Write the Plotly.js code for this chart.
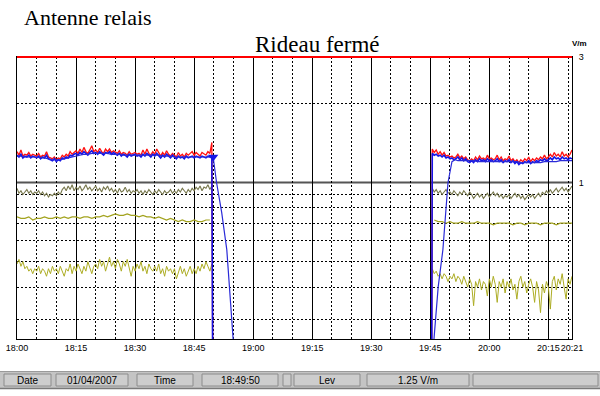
<!DOCTYPE html>
<html>
<head>
<meta charset="utf-8">
<script src="https://cdn.plot.ly/plotly-3.0.1.min.js"></script>
<style>
html,body{margin:0;padding:0;background:#fff;}
#chart{width:600px;height:396px;}
</style>
</head>
<body>
<div id="chart"></div>
<script>
// ---------------- DATA ----------------
const day = '2007-04-01';
const startHour = 18;                 // minutes below are counted from 18:00
const rangeEndMin = 141;              // 20:21
const tickMinutes = [0, 15, 30, 45, 60, 75, 90, 105, 120, 135, 141];
const tickLabels = ['18:00','18:15','18:30','18:45','19:00','19:15','19:30','19:45','20:00','20:15','20:21'];
const minorMinutes = [5,10,20,25,35,40,50,55,65,70,80,85,95,100,110,115,125,130,140];
const yGridVals = [0.3, 0.4, 0.5, 0.6, 0.7, 0.8, 0.9, 2];
const yTickVals = [1, 3];
const yTickText = ['1', '3'];
const yMin = 0.254, yMax = 3;
const offScale = 0.1;                 // signal lost (below scale)

// sampling of the noisy records (minutes)
const leftStart = 0, rightStart = 105.5, step = 0.5;
const leftDropMin = 49.8, rightRiseMin = 105.3;

// red = peak level (V/m)
const redLeft = [
1.31,1.27,1.33,1.26,1.28,1.27,1.30,1.26,1.28,1.27,
1.26,1.29,1.25,1.27,1.26,1.31,1.25,1.24,1.23,1.25,
1.22,1.24,1.23,1.27,1.25,1.28,1.26,1.31,1.28,1.30,
1.32,1.29,1.34,1.30,1.36,1.31,1.29,1.33,1.38,1.31,
1.33,1.30,1.35,1.31,1.29,1.34,1.31,1.34,1.30,1.32,
1.30,1.29,1.32,1.28,1.30,1.29,1.27,1.31,1.28,1.29,
1.30,1.28,1.29,1.27,1.33,1.28,1.34,1.29,1.27,1.31,
1.28,1.34,1.29,1.26,1.30,1.27,1.32,1.28,1.26,1.29,
1.27,1.25,1.30,1.26,1.28,1.25,1.29,1.27,1.29,1.31,
1.27,1.30,1.28,1.26,1.30,1.28,1.27,1.31,1.29,1.42];
const redRight = [
1.34,1.30,1.33,1.28,1.31,1.27,1.30,1.26,1.27,1.25,
1.26,1.24,1.25,1.28,1.24,1.26,1.23,1.25,1.22,1.21,
1.23,1.21,1.25,1.22,1.26,1.23,1.24,1.22,1.27,1.23,
1.24,1.22,1.23,1.27,1.22,1.25,1.21,1.23,1.22,1.26,
1.21,1.23,1.20,1.22,1.19,1.22,1.20,1.23,1.21,1.25,
1.20,1.23,1.21,1.24,1.22,1.25,1.23,1.27,1.23,1.25,
1.28,1.25,1.30,1.26,1.28,1.25,1.31,1.26,1.28,1.25,
1.28,1.33];

// blue = instantaneous level (V/m)
const blueLeft = [
1.27,1.25,1.28,1.24,1.26,1.25,1.27,1.24,1.26,1.25,
1.24,1.26,1.23,1.25,1.24,1.27,1.23,1.22,1.21,1.23,
1.20,1.22,1.21,1.24,1.23,1.25,1.24,1.27,1.26,1.28,
1.29,1.27,1.30,1.28,1.31,1.29,1.27,1.30,1.32,1.29,
1.30,1.28,1.31,1.29,1.27,1.30,1.29,1.31,1.28,1.30,
1.28,1.27,1.29,1.26,1.28,1.27,1.25,1.28,1.26,1.27,
1.28,1.26,1.27,1.25,1.28,1.26,1.29,1.27,1.25,1.28,
1.26,1.29,1.27,1.24,1.27,1.25,1.28,1.26,1.24,1.27,
1.25,1.23,1.26,1.24,1.25,1.23,1.26,1.24,1.25,1.26,
1.24,1.26,1.25,1.24,1.26,1.25,1.24,1.26,1.25,1.25];
const blueRight = [
1.29,1.27,1.28,1.26,1.27,1.25,1.27,1.24,1.25,1.23,
1.24,1.22,1.23,1.25,1.22,1.24,1.21,1.23,1.20,1.19,
1.21,1.19,1.22,1.20,1.23,1.21,1.22,1.20,1.23,1.21,
1.22,1.20,1.21,1.23,1.20,1.22,1.19,1.21,1.20,1.22,
1.19,1.21,1.18,1.20,1.17,1.19,1.18,1.20,1.19,1.21,
1.18,1.20,1.19,1.21,1.20,1.22,1.21,1.23,1.21,1.22,
1.24,1.22,1.25,1.23,1.24,1.22,1.25,1.23,1.24,1.22,
1.24,1.23];

// blue average (V/m), explicit minutes
const avgLeftMin = [0,1,2,3,4,5,6,7,8,9,10,11,12,13,14,15,16,17,18,19,20,21,22,23,24,25,26,27,28,29,
  30,31,32,33,34,35,36,37,38,39,40,41,42,43,44,45,46,47,48,49,49.83,50.7,52.0,53.3,54.1,54.7,55.2];
const avgLeft = [1.26,1.26,1.25,1.25,1.25,1.25,1.24,1.24,1.23,1.22,1.22,1.22,1.23,1.24,1.25,1.26,1.27,1.28,1.28,1.29,
  1.29,1.29,1.29,1.29,1.28,1.28,1.28,1.27,1.27,1.27,1.27,1.27,1.27,1.27,1.27,1.27,1.27,1.26,1.26,1.26,
  1.25,1.25,1.25,1.25,1.25,1.25,1.25,1.25,1.25,1.25,1.25,1.00,0.77,0.555,0.37,0.267,0.22];
const avgRightMin = [105.6,105.9,107.0,108.2,109.5,110.5,111.3,112,113,114,115,116,117,118,119,120,121,122,123,124,125,
  126,127,128,129,130,131,132,133,134,135,136,137,138,139,140,141];
const avgRight = [0.22,0.254,0.40,0.555,1.00,1.20,1.22,1.21,1.21,1.21,1.21,1.21,1.20,1.20,1.20,1.20,1.20,1.20,1.20,1.20,1.20,
  1.20,1.20,1.19,1.19,1.19,1.19,1.19,1.19,1.20,1.20,1.20,1.20,1.21,1.21,1.21,1.21];

// cursor reading
const cursorMin = 49.83, cursorLevel = 1.25;

// olive band (V/m)
const oliveLeft = [
0.95,0.91,0.93,0.90,0.92,0.94,0.91,0.93,0.90,0.92,
0.91,0.93,0.90,0.92,0.89,0.91,0.88,0.90,0.89,0.91,
0.89,0.92,0.90,0.94,0.96,0.93,0.97,0.94,0.98,0.93,
0.96,0.94,0.97,0.93,0.95,0.98,0.94,0.96,0.93,0.95,
0.97,0.93,0.95,0.92,0.96,0.94,0.97,0.93,0.95,0.92,
0.94,0.91,0.95,0.92,0.93,0.96,0.92,0.94,0.91,0.93,
0.92,0.94,0.91,0.93,0.90,0.93,0.91,0.94,0.92,0.90,
0.93,0.91,0.94,0.92,0.90,0.93,0.91,0.92,0.94,0.91,
0.93,0.91,0.94,0.92,0.95,0.93,0.91,0.94,0.92,0.95,
0.93,0.96,0.94,0.97,0.93,0.96,0.95,0.98,0.94,0.97];
const oliveRight = [
0.95,0.92,0.94,0.91,0.93,0.90,0.92,0.94,0.91,0.92,
0.90,0.93,0.91,0.89,0.92,0.90,0.93,0.91,0.89,0.92,
0.90,0.87,0.89,0.91,0.88,0.90,0.87,0.89,0.91,0.88,
0.90,0.92,0.89,0.91,0.88,0.90,0.87,0.89,0.88,0.90,
0.87,0.89,0.91,0.88,0.90,0.87,0.89,0.86,0.88,0.90,
0.88,0.90,0.87,0.89,0.91,0.88,0.92,0.90,0.93,0.91,
0.94,0.91,0.93,0.95,0.92,0.94,0.96,0.93,0.95,0.92,
0.95,0.97];

// mid yellow band, one value per minute (V/m)
const midLeftStart = 0, midRightStart = 106, midStep = 1;
const midLeft = [
0.74,0.73,0.73,0.74,0.72,0.73,0.73,0.74,0.73,0.73,
0.74,0.73,0.74,0.73,0.74,0.74,0.73,0.74,0.74,0.73,
0.74,0.74,0.75,0.74,0.75,0.76,0.75,0.75,0.76,0.75,
0.75,0.74,0.75,0.74,0.74,0.73,0.74,0.73,0.72,0.73,
0.72,0.71,0.72,0.71,0.71,0.72,0.71,0.71,0.72,0.72];
const midRight = [
0.72,0.71,0.71,0.70,0.71,0.70,0.70,0.71,0.70,0.70,
0.70,0.71,0.70,0.70,0.70,0.69,0.70,0.70,0.70,0.70,
0.69,0.70,0.70,0.69,0.70,0.70,0.70,0.69,0.70,0.70,
0.70,0.69,0.70,0.70,0.70,0.70];

// low yellow band (V/m)
const lowLeft = [
0.49,0.51,0.48,0.50,0.47,0.48,0.46,0.47,0.45,0.47,
0.46,0.48,0.45,0.47,0.46,0.44,0.47,0.45,0.48,0.46,
0.47,0.45,0.48,0.46,0.44,0.47,0.46,0.49,0.45,0.48,
0.46,0.49,0.47,0.45,0.48,0.46,0.50,0.47,0.45,0.48,
0.49,0.47,0.51,0.48,0.50,0.46,0.49,0.52,0.48,0.50,
0.47,0.51,0.49,0.46,0.50,0.48,0.51,0.47,0.44,0.48,
0.46,0.49,0.47,0.50,0.46,0.48,0.45,0.49,0.47,0.46,
0.48,0.46,0.49,0.45,0.47,0.44,0.48,0.46,0.47,0.45,
0.47,0.43,0.46,0.48,0.45,0.47,0.44,0.46,0.48,0.45,
0.47,0.45,0.48,0.46,0.49,0.47,0.50,0.48,0.46,0.49];
const lowRight = [
0.47,0.45,0.46,0.44,0.45,0.43,0.45,0.44,0.42,0.44,
0.43,0.45,0.42,0.44,0.43,0.41,0.44,0.42,0.40,0.43,
0.41,0.34,0.42,0.40,0.43,0.39,0.42,0.41,0.37,0.43,
0.40,0.44,0.41,0.35,0.42,0.40,0.43,0.38,0.42,0.40,
0.43,0.39,0.41,0.36,0.42,0.44,0.40,0.42,0.38,0.41,
0.43,0.40,0.35,0.42,0.39,0.32,0.41,0.38,0.42,0.40,
0.33,0.42,0.44,0.39,0.43,0.41,0.45,0.40,0.36,0.43,
0.41,0.44];

// status bar content
const statusLabels = ['Date', '01/04/2007', 'Time', '18:49:50', '', 'Lev', '1.25 V/m', ''];

// ---------------- HELPERS ----------------
function pad(n){ return (n < 10 ? '0' : '') + n; }
function at(min){
  const s = Math.round(min * 60);
  const h = startHour + Math.floor(s / 3600);
  const m = Math.floor((s % 3600) / 60);
  const sec = s % 60;
  return day + ' ' + pad(h) + ':' + pad(m) + ':' + pad(sec);
}
function times(start, stp, n){ const a = []; for (let i = 0; i < n; i++) a.push(at(start + i * stp)); return a; }
function withGap(leftX, leftY, rightX, rightY){
  return { x: leftX.concat([null], rightX), y: leftY.concat([null], rightY) };
}

// pixel layout (600x396)
const W = 600, H = 396, L = 17, R = 572, T = 57, B = 339;
const px = x => (x - L) / (R - L);
const py = y => (B - y) / (B - T);

// ---------------- TRACES ----------------
function seg(leftVals, rightVals, st1, st2, stp, dropLeft, riseRight){
  let lx = times(st1, stp, leftVals.length), ly = leftVals.slice();
  let rx = times(st2, stp, rightVals.length), ry = rightVals.slice();
  if (dropLeft){ lx.push(at(leftDropMin)); ly.push(offScale); }
  if (riseRight){ rx.unshift(at(rightRiseMin)); ry.unshift(offScale); }
  return withGap(lx, ly, rx, ry);
}

const olive = seg(oliveLeft, oliveRight, leftStart, rightStart, step, false, false);
const mid = seg(midLeft, midRight, midLeftStart, midRightStart, midStep, false, false);
const low = seg(lowLeft, lowRight, leftStart, rightStart, step, false, false);
const red = seg(redLeft, redRight, leftStart, rightStart, step, true, true);
const blue = seg(blueLeft, blueRight, leftStart, rightStart, step, true, true);
const avg = withGap(avgLeftMin.map(at), avgLeft, avgRightMin.map(at), avgRight);

const common = { type: 'scatter', mode: 'lines', hoverinfo: 'skip', showlegend: false, connectgaps: false };
const traces = [
  Object.assign({}, common, { x: olive.x, y: olive.y, line: { color: '#77774c', width: 1.1 } }),
  Object.assign({}, common, { x: mid.x, y: mid.y, line: { color: '#a3a31e', width: 1.2 } }),
  Object.assign({}, common, { x: low.x, y: low.y, line: { color: '#adad24', width: 1 } }),
  Object.assign({}, common, { x: red.x, y: red.y, line: { color: '#ff1010', width: 1.3 } }),
  Object.assign({}, common, { x: blue.x, y: blue.y, line: { color: '#1414e6', width: 1.6 } }),
  Object.assign({}, common, { x: avg.x, y: avg.y, line: { color: '#2a2ad8', width: 1.2 } }),
  Object.assign({}, common, { x: [at(cursorMin)], y: [cursorLevel], mode: 'markers',
    marker: { symbol: 'triangle-down', size: 9, color: '#1414e6' } })
];

// ---------------- LAYOUT ----------------
const shapes = [];
// level 1 reference line and level 3 (top) line
shapes.push({ type: 'line', xref: 'paper', x0: 0, x1: 1, yref: 'y', y0: 1, y1: 1, line: { color: '#555555', width: 2 }, layer: 'below' });
shapes.push({ type: 'line', xref: 'paper', x0: 0, x1: 1, yref: 'paper', y0: 1, y1: 1, line: { color: '#ff0000', width: 2 }, layer: 'above' });

// status bar
shapes.push({ type: 'rect', xref: 'paper', yref: 'paper', x0: px(0), x1: px(W), y0: py(389), y1: py(371),
  fillcolor: '#c4c4c4', line: { width: 0 }, layer: 'above' });
shapes.push({ type: 'line', xref: 'paper', yref: 'paper', x0: px(0), x1: px(W), y0: py(371.5), y1: py(371.5),
  line: { color: '#9a9a9a', width: 1 } });
shapes.push({ type: 'line', xref: 'paper', yref: 'paper', x0: px(0), x1: px(W), y0: py(388.5), y1: py(388.5),
  line: { color: '#7a7a7a', width: 1.5 } });
const boxes = [[4,51],[56,128],[137,193],[202,278],[283,291],[294,360],[367,469],[473,598]];
const annotations = [];
boxes.forEach((b, i) => {
  shapes.push({ type: 'rect', xref: 'paper', yref: 'paper', x0: px(b[0]), x1: px(b[1]), y0: py(386), y1: py(374),
    fillcolor: '#cdcdcd', line: { color: '#8c8c8c', width: 1 } });
  if (statusLabels[i]) annotations.push({ xref: 'paper', yref: 'paper', x: px((b[0] + b[1]) / 2), y: py(380),
    text: statusLabels[i], showarrow: false, xanchor: 'center', yanchor: 'middle',
    font: { family: 'Liberation Sans, Arial, sans-serif', size: 10, color: '#000' } });
});

annotations.push({ xref: 'paper', yref: 'paper', x: px(22), y: py(18), text: 'Antenne relais', showarrow: false,
  xanchor: 'left', yanchor: 'middle', font: { family: 'Liberation Serif, Times New Roman, serif', size: 22, color: '#000' } });
annotations.push({ xref: 'paper', yref: 'paper', x: px(253), y: py(44), text: 'Rideau fermé', showarrow: false,
  xanchor: 'left', yanchor: 'middle', font: { family: 'Liberation Serif, Times New Roman, serif', size: 23, color: '#000' } });
annotations.push({ xref: 'paper', yref: 'paper', x: px(579), y: py(43), text: '<b>V/m</b>', showarrow: false,
  xanchor: 'center', yanchor: 'middle', font: { family: 'Liberation Sans, Arial, sans-serif', size: 8, color: '#000' } });

const layout = {
  width: W, height: H,
  margin: { l: L, r: W - R, t: T, b: H - B, pad: 0 },
  paper_bgcolor: '#ffffff', plot_bgcolor: '#ffffff',
  showlegend: false,
  xaxis: {
    type: 'date',
    range: [at(0), at(rangeEndMin)],
    tickmode: 'array', tickvals: tickMinutes.map(at), ticktext: tickLabels,
    tickangle: 0,
    ticks: '', showgrid: true, gridcolor: '#000', gridwidth: 1,
    minor: { tickvals: minorMinutes.map(at), showgrid: true, gridcolor: '#000', gridwidth: 1, griddash: '2px,2px', ticks: '' },
    showline: true, linecolor: '#000', linewidth: 1, mirror: true,
    zeroline: false, fixedrange: true,
    tickfont: { family: 'Liberation Sans, Arial, sans-serif', size: 9, color: '#000' }
  },
  yaxis: {
    type: 'log',
    range: [Math.log10(yMin), Math.log10(yMax)],
    side: 'right',
    tickmode: 'array', tickvals: yTickVals, ticktext: yTickText,
    ticks: '', showgrid: false, ticklabelstandoff: 4,
    minor: { tickvals: yGridVals, showgrid: true, gridcolor: '#000', gridwidth: 1, griddash: '2px,2px', ticks: '' },
    showline: true, linecolor: '#000', linewidth: 1, mirror: true,
    zeroline: false, fixedrange: true,
    tickfont: { family: 'Liberation Sans, Arial, sans-serif', size: 9, color: '#000' }
  },
  shapes: shapes,
  annotations: annotations
};

Plotly.newPlot('chart', traces, layout, { displayModeBar: false, staticPlot: true });
</script>
</body>
</html>
